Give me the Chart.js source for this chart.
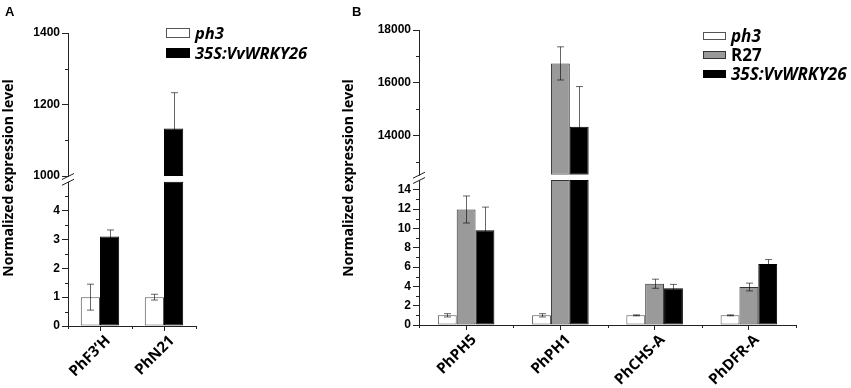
<!DOCTYPE html>
<html>
<head>
<meta charset="utf-8">
<script src="https://cdn.jsdelivr.net/npm/chart.js@4.4.1/dist/chart.umd.min.js"></script>
<style>
  body { margin: 0; background: #fff; }
  #wrap { position: relative; width: 851px; height: 388px; overflow: hidden; background: #fff; }
  canvas { position: absolute; top: 0; }
  .panel { position: absolute; font: bold 13px 'Liberation Sans', Arial, sans-serif; line-height: 13px; color: #000; }
  .leg { position: absolute; }
  .row { display: flex; align-items: center; height: 16px; position: absolute; left: 0; white-space: nowrap;
         font-family: 'Open Sans', 'DejaVu Sans', sans-serif; font-weight: bold; line-height: 16px; color: #000; }
  .box { box-sizing: border-box; border: 1px solid #444; }
</style>
</head>
<body>
<div id="wrap">
  <canvas id="cA" width="340" height="388" style="left:0px"></canvas>
  <canvas id="cB" width="511" height="388" style="left:340px"></canvas>
  <div class="panel" style="left:5px;top:5px">A</div>
  <div class="panel" style="left:352px;top:5px">B</div>
  <div class="leg" id="legA" style="left:166px;top:0px"></div>
  <div class="leg" id="legB" style="left:703px;top:0px"></div>
</div>
<script>
// ---------------- DATA ----------------
// Panel A
const catsA = ['PhF3\u2019H', 'PhN21'];
const ph3A = [1.0, 1.0];
const ph3A_err = [0.45, 0.1];
const wrkyA = [3.1, 1133];
const wrkyA_err = [0.23, 100];
const ticksA_high = [1000, 1200, 1400];
const minorA_high = [1100, 1300];
const ticksA_low = [0, 1, 2, 3, 4];
const minorA_low = [0.5, 1.5, 2.5, 3.5, 4.5];

// Panel B
const catsB = ['PhPH5', 'PhPH1', 'PhCHS-A', 'PhDFR-A'];
const ph3B = [1.0, 1.0, 1.0, 1.0];
const ph3B_err = [0.17, 0.17, 0.05, 0.05];
const r27B = [11.95, 16730, 4.27, 3.93];
const r27B_err = [1.4, 630, 0.47, 0.4];
const wrkyB = [9.8, 14320, 3.8, 6.3];
const wrkyB_err = [2.4, 1530, 0.4, 0.47];
const ticksB_high = [14000, 16000, 18000];
const minorB_high = [13000, 15000, 17000];
const ticksB_low = [0, 2, 4, 6, 8, 10, 12, 14];
const minorB_low = [1, 3, 5, 7, 9, 11, 13];

const yTitle = 'Normalized expression level';

// ---------------- STYLE ----------------
const FONT = "'Open Sans', 'DejaVu Sans', sans-serif";
const NUMFONT = "'Liberation Sans', Arial, sans-serif";
const AXIS = '#222';
const ERR = 'rgba(0,0,0,0.6)';
const STY = {
  ph3:  { fill: '#ffffff', border: '#555555', italic: true },
  r27:  { fill: '#9a9a9a', border: '#333333', italic: false },
  wrky: { fill: '#000000', border: '#000000', italic: true }
};

function buildPanel(canvasId, spec) {
  const datasets = [];
  spec.series.forEach((s, si) => {
    const common = {
      label: s.name, stack: 's' + si,
      backgroundColor: s.style.fill, borderColor: s.style.border,
      borderWidth: 1, borderSkipped: false,
      categoryPercentage: 0.6, barPercentage: 1.0
    };
    datasets.push(Object.assign({}, common, {
      yAxisID: 'yLow',
      data: s.values.map(v => [spec.low.min, Math.min(v, spec.low.cap)])
    }));
    datasets.push(Object.assign({}, common, {
      yAxisID: 'yHigh',
      data: s.values.map(v => v > spec.high.min ? [spec.high.min, v] : null)
    }));
  });

  const yCommon = (ax, weight) => ({
    type: 'linear', position: 'left', stack: 'ystack', stackWeight: weight,
    min: ax.min, max: ax.max, stacked: false,
    afterBuildTicks: (sc) => { sc.ticks = ax.majors.map(v => ({ value: v })); },
    afterFit: (sc) => { sc.width = spec.axisLeft; },
    ticks: { callback: (v) => String(v), color: '#000', padding: 2, autoSkip: false,
             font: { family: NUMFONT, weight: 'bold', size: 12 } },
    grid: { drawOnChartArea: false, tickLength: 6, tickColor: AXIS, tickWidth: 1 },
    border: { color: AXIS, width: 1 }
  });

  const deco = {
    id: 'deco',
    afterDatasetsDraw(chart) {
      const ctx = chart.ctx;
      const yL = chart.scales.yLow, yH = chart.scales.yHigh;
      ctx.save();
      ctx.strokeStyle = ERR; ctx.lineWidth = 1;
      spec.series.forEach((s, si) => {
        const meta = chart.getDatasetMeta(si * 2);
        s.values.forEach((v, i) => {
          const e = s.errors[i];
          const bar = meta.data[i];
          const sc = v > spec.high.min ? yH : yL;
          const x = Math.round(bar.x) + 0.5;
          const yt = sc.getPixelForValue(v + e), yb = sc.getPixelForValue(v - e);
          ctx.beginPath();
          ctx.moveTo(x, yt); ctx.lineTo(x, yb);
          ctx.moveTo(x - 3.5, yt); ctx.lineTo(x + 3.5, yt);
          ctx.moveTo(x - 3.5, yb); ctx.lineTo(x + 3.5, yb);
          ctx.stroke();
        });
      });
      ctx.restore();
    },
    afterDraw(chart) {
      const ctx = chart.ctx;
      const ca = chart.chartArea;
      const yL = chart.scales.yLow, yH = chart.scales.yHigh;
      const ax = ca.left;
      ctx.save();
      ctx.strokeStyle = AXIS; ctx.lineWidth = 1;
      ctx.beginPath();
      spec.high.minors.forEach(v => { const y = Math.round(yH.getPixelForValue(v)) + 0.5; ctx.moveTo(ax - 3, y); ctx.lineTo(ax, y); });
      spec.low.minors.forEach(v => { const y = Math.round(yL.getPixelForValue(v)) + 0.5; ctx.moveTo(ax - 3, y); ctx.lineTo(ax, y); });
      const n = spec.cats.length;
      for (let i = 0; i <= n; i++) {
        const x = Math.round(ca.left + (ca.right - ca.left) * i / n) + 0.5;
        ctx.moveTo(x, ca.bottom); ctx.lineTo(x, ca.bottom + 3);
      }
      ctx.stroke();
      const yb = yH.getPixelForValue(spec.high.min);
      const yl = yL.getPixelForValue(spec.low.cap);
      ctx.fillStyle = '#fff';
      ctx.fillRect(ax - 2, yb + 1, 4, yl - yb - 1);
      ctx.beginPath();
      ctx.moveTo(ax - 6, yb + 3.5); ctx.lineTo(ax + 6, yb - 2.5);
      ctx.moveTo(ax - 6, yl + 3.5); ctx.lineTo(ax + 6, yl - 2.5);
      ctx.stroke();
      ctx.fillStyle = '#000';
      ctx.font = 'bold 14px ' + FONT;
      ctx.textAlign = 'center'; ctx.textBaseline = 'middle';
      ctx.translate(spec.titleX, spec.titleY);
      ctx.rotate(-Math.PI / 2);
      ctx.fillText(yTitle, 0, 0);
      ctx.restore();
    }
  };

  return new Chart(document.getElementById(canvasId), {
    type: 'bar',
    data: { labels: spec.cats, datasets },
    options: {
      responsive: false, animation: false, devicePixelRatio: 1,
      layout: { padding: { left: 0, right: spec.padRight, top: spec.padTop, bottom: 0 } },
      plugins: { legend: { display: false }, tooltip: { enabled: false } },
      scales: {
        x: {
          type: 'category', stacked: true, offset: true,
          grid: { display: true, drawOnChartArea: false, offset: false, tickLength: 5, tickColor: AXIS, tickWidth: 1 },
          border: { color: AXIS, width: 1 },
          ticks: { minRotation: 45, maxRotation: 45, autoSkip: false, color: '#000', padding: 1, labelOffset: 8,
                   font: { family: FONT, weight: 'bold', size: 15 } },
          afterFit: (sc) => { sc.height = spec.xHeight; }
        },
        yLow: yCommon(spec.low, spec.lowWeight),
        yHigh: Object.assign(yCommon(spec.high, spec.highWeight), { weight: 1 })
      }
    },
    plugins: [deco]
  });
}

buildPanel('cA', {
  cats: catsA,
  series: [
    { name: 'ph3', values: ph3A, errors: ph3A_err, style: STY.ph3 },
    { name: '35S:VvWRKY26', values: wrkyA, errors: wrkyA_err, style: STY.wrky }
  ],
  high: { min: 1000, max: 1400, majors: ticksA_high, minors: minorA_high },
  low: { min: 0, max: 5.2, cap: 5, majors: ticksA_low, minors: minorA_low },
  highWeight: 143, lowWeight: 150,
  axisLeft: 68, padRight: 144, padTop: 33, xHeight: 62,
  titleX: 9, titleY: 178
});

buildPanel('cB', {
  cats: catsB,
  series: [
    { name: 'ph3', values: ph3B, errors: ph3B_err, style: STY.ph3 },
    { name: 'R27', values: r27B, errors: r27B_err, style: STY.r27 },
    { name: '35S:VvWRKY26', values: wrkyB, errors: wrkyB_err, style: STY.wrky }
  ],
  high: { min: 12500, max: 18000, majors: ticksB_high, minors: minorB_high },
  low: { min: 0, max: 15.55, cap: 15, majors: ticksB_low, minors: minorB_low },
  highWeight: 144.7, lowWeight: 150.3,
  axisLeft: 79, padRight: 55, padTop: 30, xHeight: 63,
  titleX: 9, titleY: 178
});

// ---------------- HTML legends ----------------
function buildLegend(id, items, rowCenters, boxW, boxH, gap, fontSize) {
  const el = document.getElementById(id);
  items.forEach((it, i) => {
    const row = document.createElement('div');
    row.className = 'row';
    row.style.top = (rowCenters[i] - 8) + 'px';
    row.style.fontSize = fontSize + 'px';
    const b = document.createElement('div');
    b.className = 'box';
    b.style.width = boxW + 'px'; b.style.height = boxH + 'px';
    b.style.background = it.style.fill; b.style.borderColor = it.style.border;
    b.style.marginRight = gap + 'px';
    const t = document.createElement('span');
    t.textContent = it.name;
    t.style.fontStyle = it.style.italic ? 'italic' : 'normal';
    row.appendChild(b); row.appendChild(t);
    el.appendChild(row);
  });
}
buildLegend('legA', [{ name: 'ph3', style: STY.ph3 }, { name: '35S:VvWRKY26', style: STY.wrky }], [33, 53], 24, 10, 5, 16.5);
buildLegend('legB', [{ name: 'ph3', style: STY.ph3 }, { name: 'R27', style: STY.r27 }, { name: '35S:VvWRKY26', style: STY.wrky }], [35.5, 54.5, 73.5], 23, 8, 5, 17);
</script>
</body>
</html>
